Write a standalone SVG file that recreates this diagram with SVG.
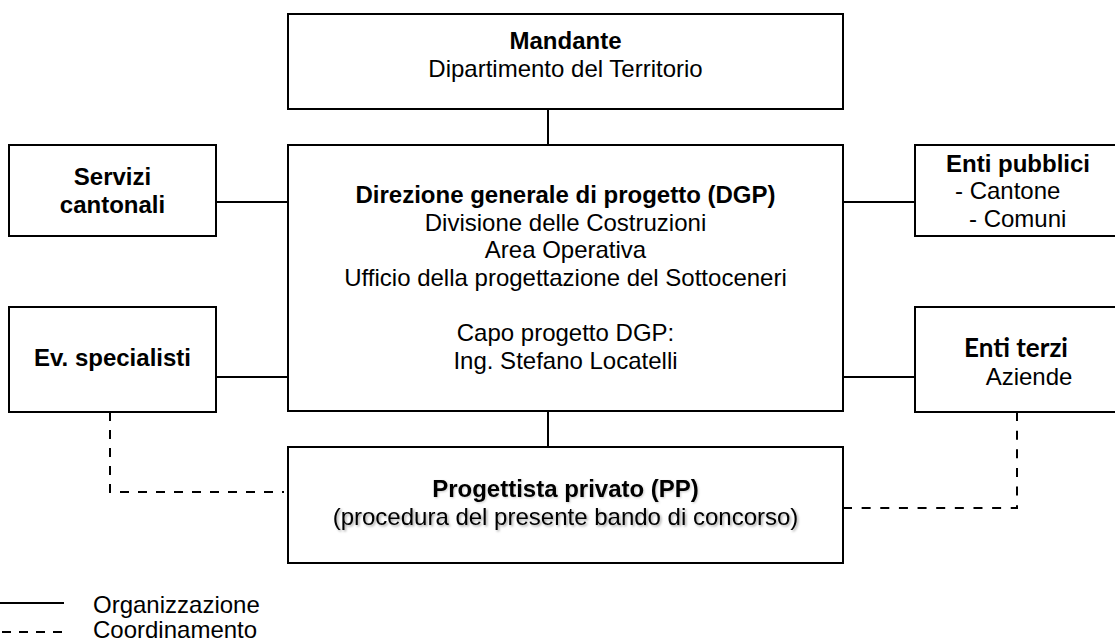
<svg xmlns="http://www.w3.org/2000/svg" width="1115" height="642" viewBox="0 0 1115 642">
  <style>
    .box { fill: #ffffff; stroke: #000000; stroke-width: 2; }
    .solid { fill: none; stroke: #000000; stroke-width: 2; }
    .dash { fill: none; stroke: #000000; stroke-width: 2; stroke-dasharray: 9 9; }
    text { font-family: "Liberation Sans", Arial, sans-serif; font-size: 24px; fill: #000000; }
    .b { font-weight: bold; }
    .c { text-anchor: middle; }
    .cal { font-family: Lato, "Liberation Sans", sans-serif; font-weight: bold; font-size: 26px; }
  </style>
  <defs>
    <filter id="shadow" x="-5%" y="-30%" width="110%" height="160%">
      <feDropShadow dx="1.5" dy="1.5" stdDeviation="1" flood-color="#000000" flood-opacity="0.35"/>
    </filter>
    <filter id="shadow-light" x="-5%" y="-30%" width="110%" height="160%">
      <feDropShadow dx="1" dy="1" stdDeviation="0.8" flood-color="#000000" flood-opacity="0.2"/>
    </filter>
  </defs>
  <rect width="1115" height="642" fill="#ffffff"/>

  <g id="connectors">
    <line class="solid" x1="548" y1="109" x2="548" y2="145"/>
    <line class="solid" x1="548" y1="411" x2="548" y2="447"/>
    <line class="solid" x1="216" y1="202" x2="288" y2="202"/>
    <line class="solid" x1="216" y1="377" x2="288" y2="377"/>
    <line class="solid" x1="843" y1="202" x2="915" y2="202"/>
    <line class="solid" x1="843" y1="377" x2="915" y2="377"/>
    <path class="dash" d="M110,412 V492 H284"/>
    <path class="dash" d="M843,508 H1017 V412" style="stroke-dasharray: 9 9.64"/>
  </g>

  <g id="mandante">
    <rect class="box" x="288" y="14" width="555" height="95"/>
    <text class="b c" x="565.5" y="48.5">Mandante</text>
    <text class="c" x="565.5" y="76.5">Dipartimento del Territorio</text>
  </g>

  <g id="dgp">
    <rect class="box" x="288" y="145" width="555" height="266"/>
    <text class="b c" x="565.5" y="203">Direzione generale di progetto (DGP)</text>
    <text class="c" x="565.5" y="230.6">Divisione delle Costruzioni</text>
    <text class="c" x="565.5" y="258.2">Area Operativa</text>
    <text class="c" x="565.5" y="285.8">Ufficio della progettazione del Sottoceneri</text>
    <text class="c" x="565.5" y="341">Capo progetto DGP:</text>
    <text class="c" x="565.5" y="368.6">Ing. Stefano Locatelli</text>
  </g>

  <g id="servizi">
    <rect class="box" x="9" y="145" width="207" height="91"/>
    <text class="b c" x="112.5" y="185">Servizi</text>
    <text class="b c" x="112.5" y="212.5">cantonali</text>
  </g>

  <g id="specialisti">
    <rect class="box" x="9" y="307" width="207" height="105"/>
    <text class="b c" x="112.5" y="366">Ev. specialisti</text>
  </g>

  <g id="enti-pubblici">
    <rect class="box" x="915" y="145" width="210" height="91"/>
    <text class="b" x="946" y="171.5">Enti pubblici</text>
    <text x="955" y="199">- Cantone</text>
    <text x="969" y="226.5">- Comuni</text>
  </g>

  <g id="enti-terzi">
    <rect class="box" x="915" y="307" width="210" height="105"/>
    <text class="cal c" x="1016" y="357">Enti terzi</text>
    <text class="c" x="1029" y="385">Aziende</text>
  </g>

  <g id="progettista">
    <rect class="box" x="288" y="447" width="555" height="116"/>
    <text class="b c" x="565.5" y="497" filter="url(#shadow-light)">Progettista privato (PP)</text>
    <text class="c" x="565.5" y="524.6" filter="url(#shadow)">(procedura del presente bando di concorso)</text>
  </g>

  <g id="legend">
    <line class="solid" x1="0" y1="603" x2="64" y2="603"/>
    <line class="dash" x1="2" y1="632" x2="64" y2="632" style="stroke-dasharray: 9 8"/>
    <text x="93" y="612.5">Organizzazione</text>
    <text x="93" y="638">Coordinamento</text>
  </g>
</svg>
